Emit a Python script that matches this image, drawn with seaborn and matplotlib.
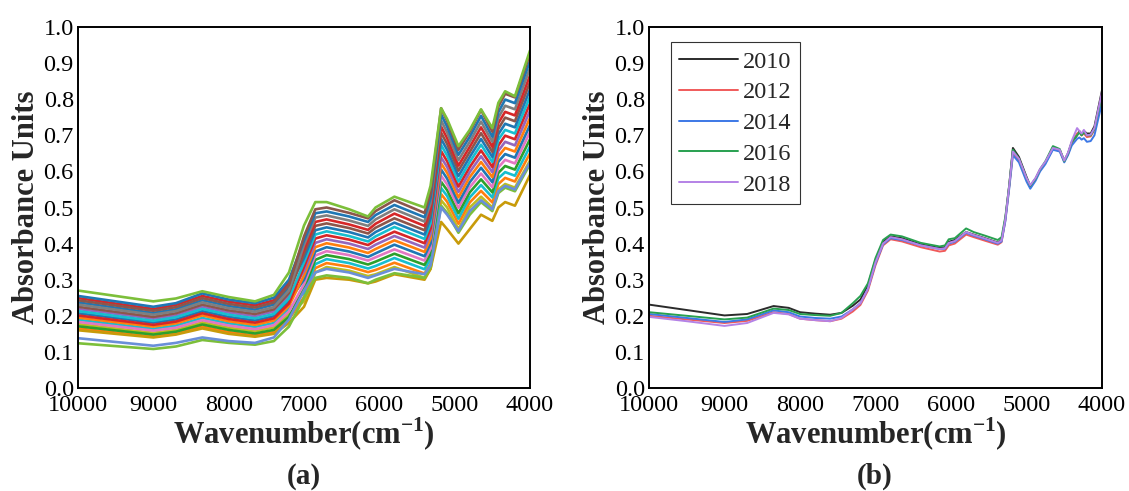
import numpy as np
import pandas as pd
import matplotlib
matplotlib.use("Agg")
import matplotlib.pyplot as plt
import seaborn as sns

# ---------------- data: panel (a) ----------------
wn_a = [10000, 9000, 8700, 8350, 8000, 7650, 7400, 7200, 7000, 6850, 6700, 6400, 6150,
        6050, 5800, 5400, 5320, 5180, 5100, 4950, 4800, 4650, 4500, 4420, 4330, 4200, 4000]

spectra_a = [
    [.177, .153, .161, .182, .167, .157, .168, .205, .240, .320, .335, .325, .310, .315, .335, .305, .330, .520, .500, .440, .500, .530, .500, .550, .565, .555, .630],
    [.165, .142, .150, .170, .155, .145, .155, .190, .252, .332, .346, .336, .321, .327, .347, .317, .344, .537, .516, .455, .514, .546, .514, .565, .582, .572, .650],
    [.189, .164, .173, .194, .179, .169, .180, .219, .264, .343, .357, .346, .331, .338, .360, .329, .358, .554, .532, .469, .528, .562, .528, .581, .598, .588, .669],
    [.171, .148, .156, .176, .161, .151, .161, .197, .276, .355, .368, .357, .342, .350, .372, .341, .372, .571, .548, .484, .542, .578, .542, .596, .615, .605, .689],
    [.183, .159, .167, .188, .173, .163, .174, .212, .288, .367, .379, .368, .353, .362, .384, .353, .386, .588, .564, .499, .556, .594, .556, .611, .632, .622, .709],
    [.207, .181, .190, .213, .197, .187, .199, .241, .300, .378, .390, .378, .363, .373, .397, .365, .400, .605, .580, .513, .570, .610, .570, .627, .648, .638, .728],
    [.195, .170, .179, .201, .185, .175, .187, .227, .312, .390, .401, .389, .374, .385, .409, .377, .414, .622, .596, .528, .584, .626, .584, .642, .665, .655, .748],
    [.219, .192, .201, .225, .209, .199, .212, .256, .324, .402, .412, .400, .385, .397, .421, .389, .428, .639, .612, .543, .598, .642, .598, .657, .682, .672, .768],
    [.201, .175, .184, .207, .191, .181, .193, .234, .336, .414, .423, .411, .396, .409, .433, .401, .442, .656, .628, .558, .612, .658, .612, .672, .699, .689, .788],
    [.213, .186, .196, .219, .203, .193, .205, .248, .348, .425, .434, .421, .406, .420, .446, .413, .456, .673, .644, .572, .626, .674, .626, .688, .715, .705, .807],
    [.237, .208, .218, .243, .227, .217, .231, .278, .360, .437, .445, .432, .417, .432, .458, .425, .470, .690, .660, .587, .640, .690, .640, .703, .732, .722, .827],
    [.225, .197, .207, .231, .215, .205, .218, .263, .372, .449, .456, .443, .428, .444, .470, .437, .484, .707, .676, .602, .654, .706, .654, .718, .749, .739, .847],
    [.249, .219, .230, .255, .239, .229, .243, .292, .384, .460, .467, .453, .438, .455, .483, .449, .498, .724, .692, .616, .668, .722, .668, .734, .765, .755, .866],
    [.231, .203, .213, .237, .221, .211, .224, .270, .396, .472, .478, .464, .449, .467, .495, .461, .512, .741, .708, .631, .682, .738, .682, .749, .782, .772, .886],
    [.255, .225, .235, .262, .245, .235, .250, .300, .408, .484, .489, .475, .460, .479, .507, .473, .526, .758, .724, .646, .696, .754, .696, .764, .799, .789, .906],
    [.243, .214, .224, .249, .233, .223, .237, .285, .420, .495, .500, .485, .470, .490, .520, .485, .540, .775, .740, .660, .710, .770, .710, .780, .815, .805, .925],
    # outlying samples
    [.270, .240, .248, .268, .252, .240, .258, .320, .450, .515, .515, .495, .475, .500, .530, .500, .560, .775, .745, .670, .715, .772, .720, .790, .822, .808, .935],
    [.160, .140, .148, .165, .150, .142, .150, .180, .225, .300, .305, .300, .290, .295, .315, .300, .330, .460, .440, .400, .440, .480, .463, .500, .515, .505, .590],
    [.124, .108, .115, .133, .125, .120, .130, .170, .250, .305, .312, .305, .290, .300, .318, .305, .335, .505, .485, .430, .480, .515, .490, .540, .555, .545, .620],
    [.138, .117, .125, .140, .130, .125, .140, .190, .270, .320, .330, .320, .305, .312, .330, .315, .340, .500, .480, .435, .490, .520, .495, .545, .560, .550, .625],
]

colors_a = ['#bcbd22', '#ff7f0e', '#17becf', '#2ca02c', '#e377c2', '#1f77b4', '#ff7f0e', '#9467bd',
            '#d62728', '#17becf', '#1f77b4', '#8c564b', '#d62728', '#7f7f7f', '#1f77b4', '#8c564b',
            '#7cbf3a', '#c89b0a', '#7cbf3a', '#6a8fd8']

# ---------------- data: panel (b) ----------------
wn_b = [10000, 9500, 9000, 8700, 8350, 8150, 8000, 7800, 7600, 7450,
        7300, 7200, 7100, 7000, 6900, 6800, 6650, 6400, 6150, 6080,
        6030, 5950, 5800, 5700, 5550, 5380, 5330, 5280, 5230, 5180,
        5100, 5000, 4950, 4880, 4820, 4750, 4650, 4560, 4500, 4450,
        4400, 4330, 4300, 4270, 4240, 4200, 4150, 4100, 4050, 4000]

y2010 = [.231, .216, .201, .205, .227, .222, .210, .206, .203, .208,
         .228, .245, .285, .355, .405, .420, .415, .398, .388, .390,
         .405, .410, .432, .425, .415, .403, .410, .470, .560, .665,
         .640, .585, .560, .580, .605, .625, .665, .660, .630, .650,
         .680, .700, .712, .700, .712, .705, .705, .725, .775, .825]
y2012 = [.200, .190, .180, .186, .210, .205, .192, .188, .185, .192,
         .212, .230, .270, .340, .395, .412, .406, .390, .378, .380,
         .395, .400, .425, .418, .408, .397, .404, .465, .555, .650,
         .630, .578, .557, .578, .603, .624, .662, .657, .628, .648,
         .680, .705, .708, .700, .705, .695, .697, .715, .765, .815]
y2014 = [.205, .194, .183, .190, .215, .210, .198, .194, .192, .198,
         .218, .235, .275, .345, .398, .415, .410, .395, .385, .386,
         .400, .405, .430, .422, .412, .400, .406, .462, .550, .645,
         .625, .572, .552, .574, .600, .620, .660, .655, .625, .645,
         .672, .690, .694, .688, .692, .682, .684, .700, .745, .790]
y2016 = [.210, .200, .190, .195, .220, .216, .205, .202, .200, .208,
         .235, .255, .290, .360, .410, .425, .420, .402, .392, .395,
         .412, .415, .442, .432, .422, .410, .418, .475, .560, .660,
         .635, .582, .560, .580, .606, .628, .670, .662, .628, .650,
         .682, .700, .708, .700, .708, .700, .700, .718, .765, .810]
y2018 = [.197, .185, .172, .180, .208, .204, .192, .188, .185, .194,
         .218, .235, .275, .348, .400, .418, .412, .395, .385, .387,
         .402, .407, .432, .424, .414, .402, .409, .468, .558, .655,
         .635, .582, .562, .582, .607, .627, .665, .660, .630, .652,
         .685, .720, .712, .705, .715, .700, .702, .720, .770, .820]

years = ['2010', '2012', '2014', '2016', '2018']
colors_b = ['#2b2b2b', '#f05a5a', '#3c78e6', '#28a050', '#b482e6']

# ---------------- style ----------------
sns.set_style("white")
plt.rcParams['font.family'] = ['Liberation Serif', 'DejaVu Serif']
plt.rcParams['mathtext.fontset'] = 'custom'
plt.rcParams['mathtext.rm'] = 'Liberation Serif'
plt.rcParams['mathtext.bf'] = 'Liberation Serif:bold'

fig = plt.figure(figsize=(11.29, 4.91), dpi=100)
ax1 = fig.add_axes([78 / 1129, 1 - 388 / 491, 452 / 1129, 361 / 491])
ax2 = fig.add_axes([649 / 1129, 1 - 388 / 491, 453 / 1129, 361 / 491])

# panel (a)
rows = []
for i, s in enumerate(spectra_a):
    for w, v in zip(wn_a, s):
        rows.append((w, v, f"s{i:02d}"))
df_a = pd.DataFrame(rows, columns=['wn', 'abs', 'sample'])
sns.lineplot(data=df_a, x='wn', y='abs', hue='sample', palette=colors_a,
             legend=False, linewidth=1.9, estimator=None, ax=ax1)

# panel (b)
rows = []
for yr, s in zip(years, [y2010, y2012, y2014, y2016, y2018]):
    for w, v in zip(wn_b, s):
        rows.append((w, v, yr))
df_b = pd.DataFrame(rows, columns=['wn', 'abs', 'year'])
sns.lineplot(data=df_b, x='wn', y='abs', hue='year', palette=colors_b,
             linewidth=1.4, estimator=None, ax=ax2)

for ax in (ax1, ax2):
    ax.set_xlim(10000, 4000)
    ax.set_ylim(0, 1.0)
    ax.set_xticks(np.arange(4000, 10001, 1000))
    ax.set_xticks(np.arange(4500, 10000, 1000), minor=True)
    ax.set_yticks(np.round(np.arange(0, 1.01, 0.1), 1))
    ax.set_yticks(np.arange(0.05, 1.0, 0.1), minor=True)
    ax.set_yticklabels([f"{v:.1f}" for v in np.arange(0, 1.01, 0.1)])
    ax.tick_params(which='both', direction='in', top=False, right=False,
                   labelsize=17.5, width=1.2, colors='black')
    ax.tick_params(axis='x', which='both', pad=5)
    ax.tick_params(axis='y', which='both', pad=3)
    ax.tick_params(which='major', length=5)
    ax.tick_params(which='minor', length=3)
    for sp in ax.spines.values():
        sp.set_visible(True)
        sp.set_linewidth(1.4)
        sp.set_color('black')
    ax.set_xlabel(r"Wavenumber(cm$^{\mathbf{-1}}$)", fontsize=22, fontweight='bold', labelpad=0)
    ax.set_ylabel("Absorbance Units", fontsize=22, fontweight='bold', labelpad=2)

leg = ax2.legend(loc='upper left', bbox_to_anchor=(0.048, 0.958), borderaxespad=0,
                 fontsize=17.5, handlelength=2.4, handletextpad=0.2, labelspacing=0.36,
                 borderpad=0.35, fancybox=False, frameon=True)
leg.get_frame().set_edgecolor('black')
leg.get_frame().set_linewidth(0.8)

fig.text(304 / 1129, 1 - 476 / 491, "(a)", ha='center', va='center', fontsize=21, fontweight='bold')
fig.text(875 / 1129, 1 - 476 / 491, "(b)", ha='center', va='center', fontsize=21, fontweight='bold')

fig.savefig("out.png", dpi=100, facecolor='white')
